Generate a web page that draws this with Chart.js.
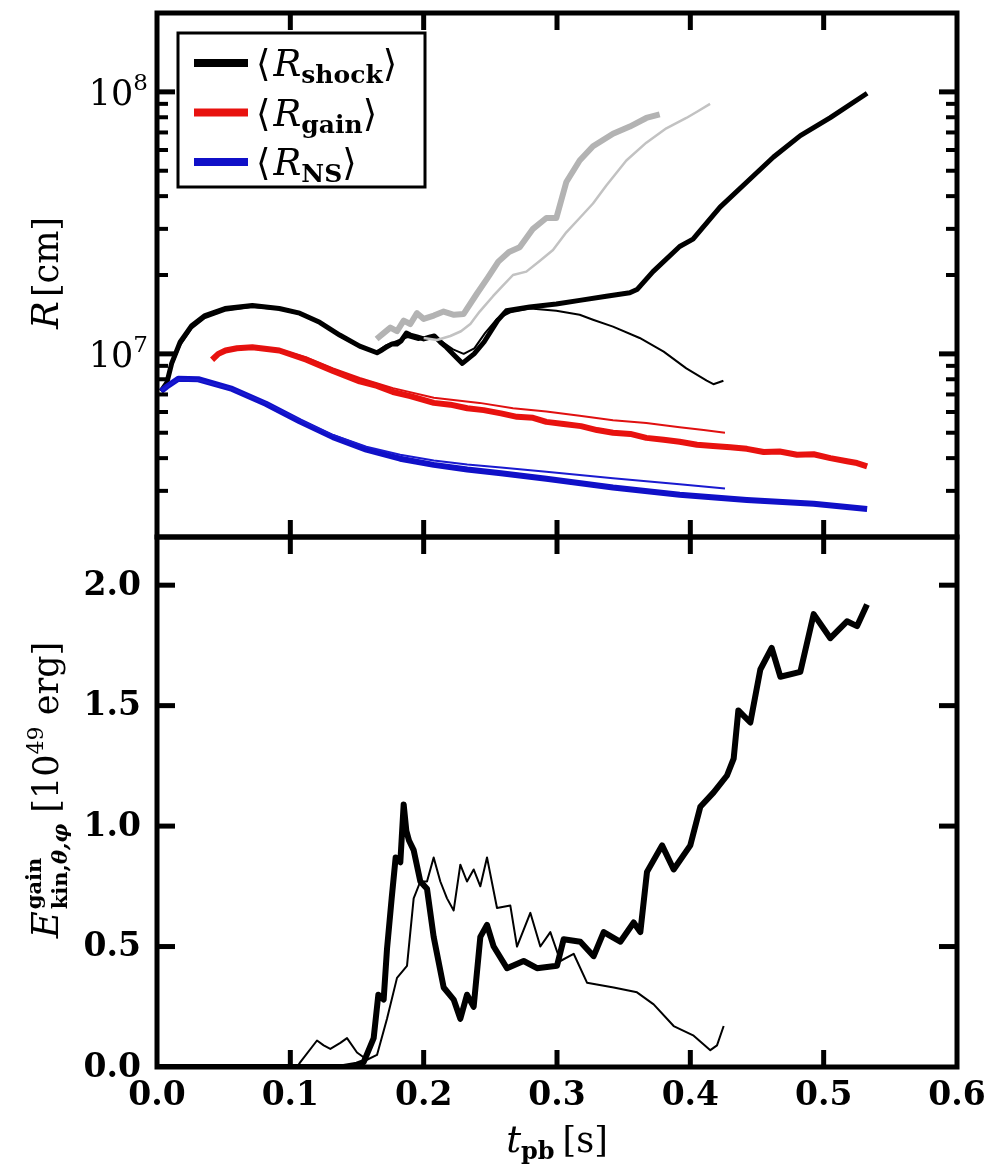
<!DOCTYPE html>
<html>
<head>
<meta charset="utf-8">
<title>Shock, gain and NS radii / kinetic energy in gain layer</title>
<script src="https://cdn.jsdelivr.net/npm/chart.js@4.4.1/dist/chart.umd.min.js"></script>
<style>
  html, body { margin: 0; padding: 0; background: #fff; }
  #wrap { position: relative; width: 990px; height: 1167px; }
  #wrap canvas { position: absolute; left: 0; top: 0; }
</style>
</head>
<body>
<div id="wrap">
  <canvas id="radiusChart" width="990" height="1167"></canvas>
  <canvas id="ekinChart" width="990" height="1167"></canvas>
</div>
<script>
const SERIF = '"DejaVu Serif", "Liberation Serif", serif';

// time axis (post bounce, s)
const tTicks = [0, 0.1, 0.2, 0.3, 0.4, 0.5, 0.6];
const tTickLabels = ['0.0', '0.1', '0.2', '0.3', '0.4', '0.5', '0.6'];

// radius axis (cm, log)
const rMin = 2e6, rMax = 2e8;
const rMajor = [1e7, 1e8];
const rMajorExp = ['7', '8'];
const rMinor = [3e6, 4e6, 5e6, 6e6, 7e6, 8e6, 9e6, 2e7, 3e7, 4e7, 5e7, 6e7, 7e7, 8e7, 9e7];

// energy axis (1e49 erg)
const eMax = 2.2;
const eTicks = [0, 0.5, 1.0, 1.5, 2.0];
const eTickLabels = ['0.0', '0.5', '1.0', '1.5', '2.0'];

// legend entries
const legendSubs = ['shock', 'gain', 'NS'];
const legendColors = ['#000000', '#e8120f', '#1010c8'];

// shock radius, model A (thick) and model B (thin)
const shockT_a = [0.003, 0.0073, 0.011, 0.0174, 0.026, 0.036, 0.051, 0.0715, 0.0917, 0.107, 0.122, 0.137, 0.152, 0.165, 0.168, 0.172, 0.176, 0.18, 0.183, 0.187, 0.19, 0.195, 0.2, 0.205, 0.208, 0.2125, 0.217, 0.2227, 0.229, 0.2378, 0.2453, 0.2554, 0.262, 0.2795, 0.2995, 0.317, 0.337, 0.3546, 0.36, 0.372, 0.392, 0.402, 0.4223, 0.4424, 0.4624, 0.4825, 0.505, 0.5326];
const shockR_a = [7.2e6, 7.74e6, 9.2e6, 1.11e7, 1.28e7, 1.40e7, 1.49e7, 1.53e7, 1.49e7, 1.43e7, 1.32e7, 1.18e7, 1.07e7, 1.01e7, 1.03e7, 1.06e7, 1.09e7, 1.09e7, 1.12e7, 1.2e7, 1.18e7, 1.16e7, 1.14e7, 1.16e7, 1.17e7, 1.11e7, 1.06e7, 9.9e6, 9.2e6, 1.0e7, 1.11e7, 1.34e7, 1.46e7, 1.51e7, 1.55e7, 1.6e7, 1.66e7, 1.71e7, 1.76e7, 2.06e7, 2.57e7, 2.74e7, 3.63e7, 4.53e7, 5.64e7, 6.81e7, 7.98e7, 9.88e7];
const shockT_b = [0.003, 0.0073, 0.011, 0.0174, 0.026, 0.036, 0.051, 0.0715, 0.0917, 0.107, 0.122, 0.137, 0.152, 0.165, 0.172, 0.18, 0.188, 0.196, 0.205, 0.213, 0.222, 0.23, 0.238, 0.246, 0.255, 0.265, 0.28, 0.2995, 0.317, 0.327, 0.342, 0.362, 0.38, 0.397, 0.4123, 0.4173, 0.4248];
const shockR_b = [7.2e6, 7.6e6, 9.0e6, 1.08e7, 1.25e7, 1.37e7, 1.46e7, 1.51e7, 1.48e7, 1.42e7, 1.31e7, 1.17e7, 1.06e7, 1.02e7, 1.08e7, 1.12e7, 1.16e7, 1.13e7, 1.17e7, 1.12e7, 1.04e7, 1.0e7, 1.05e7, 1.2e7, 1.36e7, 1.44e7, 1.49e7, 1.46e7, 1.41e7, 1.35e7, 1.27e7, 1.15e7, 1.02e7, 8.8e6, 7.9e6, 7.66e6, 7.9e6];

// shock radius, grey comparison runs
const greyT_a = [0.1647, 0.17, 0.175, 0.18, 0.185, 0.19, 0.195, 0.2, 0.2076, 0.215, 0.2227, 0.23, 0.24, 0.248, 0.256, 0.264, 0.272, 0.282, 0.292, 0.2995, 0.307, 0.317, 0.327, 0.342, 0.3546, 0.367, 0.377];
const greyR_a = [1.14e7, 1.2e7, 1.26e7, 1.22e7, 1.34e7, 1.3e7, 1.43e7, 1.36e7, 1.4e7, 1.45e7, 1.41e7, 1.42e7, 1.7e7, 1.95e7, 2.25e7, 2.45e7, 2.55e7, 3.0e7, 3.3e7, 3.3e7, 4.53e7, 5.47e7, 6.2e7, 6.92e7, 7.37e7, 7.95e7, 8.2e7];
const greyT_b = [0.2, 0.21, 0.22, 0.228, 0.235, 0.242, 0.252, 0.2594, 0.267, 0.277, 0.287, 0.297, 0.307, 0.317, 0.327, 0.337, 0.352, 0.367, 0.382, 0.397, 0.405, 0.4148];
const greyR_b = [1.15e7, 1.13e7, 1.17e7, 1.22e7, 1.3e7, 1.45e7, 1.66e7, 1.82e7, 2.0e7, 2.06e7, 2.26e7, 2.49e7, 2.91e7, 3.3e7, 3.75e7, 4.39e7, 5.47e7, 6.4e7, 7.26e7, 7.95e7, 8.4e7, 9.0e7];

// gain radius
const gainT_a = [0.0413, 0.046, 0.0514, 0.06, 0.0715, 0.0917, 0.112, 0.132, 0.152, 0.165, 0.177, 0.19, 0.2076, 0.22, 0.2327, 0.245, 0.258, 0.27, 0.282, 0.292, 0.305, 0.318, 0.33, 0.342, 0.355, 0.367, 0.38, 0.392, 0.405, 0.417, 0.43, 0.4424, 0.455, 0.467, 0.48, 0.4925, 0.505, 0.5175, 0.525, 0.5326];
const gainR_a = [9.5e6, 1.0e7, 1.03e7, 1.05e7, 1.06e7, 1.03e7, 9.5e6, 8.6e6, 7.85e6, 7.55e6, 7.15e6, 6.9e6, 6.5e6, 6.4e6, 6.2e6, 6.1e6, 5.93e6, 5.75e6, 5.7e6, 5.5e6, 5.4e6, 5.3e6, 5.12e6, 5.0e6, 4.95e6, 4.78e6, 4.7e6, 4.62e6, 4.5e6, 4.45e6, 4.4e6, 4.34e6, 4.22e6, 4.24e6, 4.12e6, 4.14e6, 4.0e6, 3.89e6, 3.83e6, 3.72e6];
const gainT_b = [0.05, 0.0715, 0.0917, 0.112, 0.132, 0.152, 0.177, 0.2076, 0.2419, 0.267, 0.292, 0.317, 0.342, 0.367, 0.392, 0.41, 0.426];
const gainR_b = [1.02e7, 1.06e7, 1.04e7, 9.7e6, 8.8e6, 8.1e6, 7.4e6, 6.8e6, 6.5e6, 6.2e6, 6.03e6, 5.8e6, 5.58e6, 5.45e6, 5.25e6, 5.12e6, 5.0e6];

// neutron star radius
const nsT_a = [0.003, 0.0073, 0.016, 0.031, 0.0564, 0.0816, 0.107, 0.132, 0.157, 0.1824, 0.2076, 0.2327, 0.258, 0.292, 0.342, 0.392, 0.4424, 0.4925, 0.5326];
const nsR_a = [7.2e6, 7.5e6, 8.04e6, 8.0e6, 7.35e6, 6.45e6, 5.53e6, 4.81e6, 4.31e6, 3.98e6, 3.77e6, 3.62e6, 3.5e6, 3.34e6, 3.09e6, 2.9e6, 2.77e6, 2.68e6, 2.56e6];
const nsT_b = [0.003, 0.0073, 0.016, 0.031, 0.0564, 0.0816, 0.107, 0.132, 0.157, 0.1824, 0.2076, 0.2327, 0.258, 0.292, 0.342, 0.392, 0.426];
const nsR_b = [7.2e6, 7.5e6, 8.0e6, 7.95e6, 7.35e6, 6.5e6, 5.6e6, 4.9e6, 4.42e6, 4.12e6, 3.92e6, 3.78e6, 3.68e6, 3.55e6, 3.35e6, 3.18e6, 3.06e6];

// non-radial kinetic energy in the gain layer
const ekinT_a = [0.0, 0.14, 0.15, 0.155, 0.1625, 0.166, 0.17, 0.1725, 0.176, 0.179, 0.1825, 0.185, 0.187, 0.189, 0.1925, 0.1975, 0.2025, 0.2075, 0.215, 0.2225, 0.2275, 0.2325, 0.2375, 0.2425, 0.2475, 0.2525, 0.2625, 0.275, 0.285, 0.3, 0.305, 0.3175, 0.3275, 0.335, 0.3475, 0.3575, 0.3625, 0.3675, 0.3788, 0.3875, 0.4, 0.4075, 0.4175, 0.4275, 0.4325, 0.436, 0.445, 0.4525, 0.461, 0.4675, 0.4825, 0.4925, 0.505, 0.5175, 0.525, 0.5325];
const ekinE_a = [0, 0, 0.01, 0.02, 0.12, 0.3, 0.28, 0.49, 0.70, 0.87, 0.85, 1.09, 0.98, 0.94, 0.90, 0.77, 0.74, 0.54, 0.33, 0.28, 0.2, 0.30, 0.25, 0.54, 0.59, 0.50, 0.41, 0.44, 0.41, 0.42, 0.53, 0.52, 0.46, 0.56, 0.52, 0.60, 0.56, 0.81, 0.92, 0.82, 0.92, 1.08, 1.14, 1.21, 1.28, 1.48, 1.43, 1.65, 1.74, 1.62, 1.64, 1.88, 1.78, 1.85, 1.83, 1.92];
const ekinT_b = [0.0, 0.105, 0.1075, 0.12, 0.125, 0.13, 0.1375, 0.1425, 0.15, 0.1575, 0.165, 0.1725, 0.18, 0.1875, 0.1925, 0.1975, 0.2025, 0.2075, 0.2125, 0.2175, 0.2225, 0.2275, 0.2325, 0.2375, 0.2425, 0.2475, 0.255, 0.265, 0.27, 0.28, 0.2875, 0.295, 0.3025, 0.3125, 0.3225, 0.3425, 0.36, 0.3725, 0.3875, 0.4025, 0.415, 0.42, 0.425];
const ekinE_b = [0, 0, 0.02, 0.11, 0.09, 0.075, 0.1, 0.12, 0.06, 0.03, 0.05, 0.2, 0.37, 0.42, 0.70, 0.77, 0.77, 0.87, 0.77, 0.70, 0.65, 0.84, 0.77, 0.82, 0.75, 0.87, 0.66, 0.67, 0.50, 0.64, 0.50, 0.56, 0.44, 0.47, 0.35, 0.33, 0.31, 0.26, 0.17, 0.13, 0.07, 0.09, 0.17];

const pts = (ts, vs) => ts.map((t, i) => ({ x: t, y: vs[i] }));

function line(data, color, width) {
  return {
    data, borderColor: color, borderWidth: width,
    pointRadius: 0, fill: false, borderJoinStyle: 'round', borderCapStyle: 'butt'
  };
}

// draws a run of text pieces (with sub/superscripts) from x along baseline y
function rich(ctx, parts, x, y, draw) {
  let cx = x;
  for (const p of parts) {
    if (p.sup) {
      const w1 = rich(ctx, p.sup, cx, y + p.supDy, draw);
      const w2 = rich(ctx, p.sub, cx, y + p.subDy, draw);
      cx += Math.max(w1, w2);
      continue;
    }
    ctx.font = p.font;
    if (draw) ctx.fillText(p.text, cx, y + (p.dy || 0));
    cx += ctx.measureText(p.text).width + (p.kern || 0);
  }
  return cx - x;
}

function richCentered(ctx, parts, cx, y) {
  const w = rich(ctx, parts, 0, 0, false);
  rich(ctx, parts, cx - w / 2, y, true);
}

function richVertical(ctx, parts, x, cy) {
  ctx.save();
  ctx.translate(x, cy);
  ctx.rotate(-Math.PI / 2);
  richCentered(ctx, parts, 0, 0);
  ctx.restore();
}

// box frame with inward ticks on all four sides
function makeFrame(xTicks, yMajor, yMinor) {
  return {
    id: 'frame',
    afterDatasetsDraw(chart) {
      const { ctx, chartArea: a, scales: { x, y } } = chart;
      const seg = (x1, y1, x2, y2, w) => {
        ctx.lineWidth = w;
        ctx.beginPath(); ctx.moveTo(x1, y1); ctx.lineTo(x2, y2); ctx.stroke();
      };
      ctx.save();
      ctx.strokeStyle = '#000';
      xTicks.forEach(v => {
        const px = x.getPixelForValue(v);
        seg(px, a.top, px, a.top + 17, 5);
        seg(px, a.bottom, px, a.bottom - 17, 5);
      });
      yMajor.forEach(v => {
        const py = y.getPixelForValue(v);
        seg(a.left, py, a.left + 18, py, 5);
        seg(a.right, py, a.right - 18, py, 5);
      });
      yMinor.forEach(v => {
        const py = y.getPixelForValue(v);
        seg(a.left, py, a.left + 11, py, 4);
        seg(a.right, py, a.right - 11, py, 4);
      });
      ctx.lineWidth = 5;
      ctx.strokeRect(a.left, a.top, a.width, a.height);
      ctx.restore();
    }
  };
}

const radiusLabels = {
  id: 'radiusLabels',
  afterDraw(chart) {
    const { ctx, chartArea: a, scales: { y } } = chart;
    ctx.save();
    ctx.fillStyle = '#000';
    ctx.textBaseline = 'alphabetic';
    // 10^n tick labels
    rMajor.forEach((v, i) => {
      const py = y.getPixelForValue(v);
      const parts = [
        { text: '10', font: `35px ${SERIF}` },
        { text: rMajorExp[i], font: `23px ${SERIF}`, dy: -15 }
      ];
      const w = rich(ctx, parts, 0, 0, false);
      rich(ctx, parts, 148 - w, py + 13, true);
    });
    // axis title
    richVertical(ctx, [
      { text: 'R', font: `italic 37px ${SERIF}`, kern: 4 },
      { text: '[cm]', font: `35px ${SERIF}` }
    ], 58, 273);

    // legend
    const lx = a.left + 21, ly = 33, lw = 247, lh = 154;
    ctx.fillStyle = '#fff';
    ctx.fillRect(lx, ly, lw, lh);
    ctx.strokeStyle = '#000';
    ctx.lineWidth = 3;
    ctx.strokeRect(lx, ly, lw, lh);
    legendSubs.forEach((sub, i) => {
      const yy = 63 + i * 49.5;
      ctx.strokeStyle = legendColors[i];
      ctx.lineWidth = 8;
      ctx.beginPath(); ctx.moveTo(194, yy); ctx.lineTo(248, yy); ctx.stroke();
      ctx.fillStyle = '#000';
      rich(ctx, [
        { text: '\u27E8', font: `37px ${SERIF}`, kern: 3 },
        { text: 'R', font: `italic 37px ${SERIF}` },
        { text: sub, font: `bold 25px ${SERIF}`, dy: 7 },
        { text: '\u27E9', font: `37px ${SERIF}` }
      ], 256, yy + 13, true);
    });
    ctx.restore();
  }
};

const ekinLabels = {
  id: 'ekinLabels',
  afterDraw(chart) {
    const { ctx, chartArea: a, scales: { x, y } } = chart;
    ctx.save();
    ctx.fillStyle = '#000';
    ctx.font = `bold 33px ${SERIF}`;
    ctx.textBaseline = 'middle';
    ctx.textAlign = 'right';
    eTicks.forEach((v, i) => ctx.fillText(eTickLabels[i], 141, y.getPixelForValue(v) + 1));
    ctx.textAlign = 'center';
    tTicks.forEach((v, i) => ctx.fillText(tTickLabels[i], x.getPixelForValue(v), a.bottom + 29));
    ctx.textAlign = 'left';
    ctx.textBaseline = 'alphabetic';
    richCentered(ctx, [
      { text: 't', font: `italic 37px ${SERIF}` },
      { text: 'pb', font: `bold 24px ${SERIF}`, dy: 7, kern: 8 },
      { text: '[s]', font: `35px ${SERIF}` }
    ], (a.left + a.right) / 2, 1152);
    richVertical(ctx, [
      { text: 'E', font: `italic 37px ${SERIF}`, kern: 2 },
      {
        sup: [{ text: 'gain', font: `bold 21px ${SERIF}` }],
        sub: [{ text: 'kin,', font: `bold 21px ${SERIF}` }, { text: '\u03B8,\u03C6', font: `bold italic 21px ${SERIF}` }],
        supDy: -17, subDy: 9
      },
      { text: ' [10', font: `35px ${SERIF}` },
      { text: '49', font: `22px ${SERIF}`, dy: -15 },
      { text: ' erg]', font: `35px ${SERIF}` }
    ], 58, 790);
    ctx.restore();
  }
};

const common = {
  responsive: false,
  animation: false,
  devicePixelRatio: 1,
  events: [],
  plugins: { legend: { display: false }, tooltip: { enabled: false } }
};

new Chart(document.getElementById('radiusChart'), {
  type: 'line',
  data: {
    datasets: [
      line(pts(greyT_b, greyR_b), '#c2c2c2', 2.5),
      line(pts(greyT_a, greyR_a), '#b3b3b3', 6),
      line(pts(nsT_b, nsR_b), '#1a1ad0', 2),
      line(pts(nsT_a, nsR_a), '#1010c8', 6),
      line(pts(gainT_b, gainR_b), '#e01010', 2),
      line(pts(gainT_a, gainR_a), '#e8120f', 6),
      line(pts(shockT_b, shockR_b), '#000000', 2),
      line(pts(shockT_a, shockR_a), '#000000', 5)
    ]
  },
  options: {
    ...common,
    layout: { padding: { left: 157, right: 33, top: 13, bottom: 630 } },
    scales: {
      x: { type: 'linear', min: 0, max: 0.6, display: false },
      y: { type: 'logarithmic', min: rMin, max: rMax, display: false }
    }
  },
  plugins: [makeFrame(tTicks.slice(1, -1), rMajor, rMinor), radiusLabels]
});

new Chart(document.getElementById('ekinChart'), {
  type: 'line',
  data: {
    datasets: [
      line(pts(ekinT_b, ekinE_b), '#000000', 2),
      line(pts(ekinT_a, ekinE_a), '#000000', 6)
    ]
  },
  options: {
    ...common,
    layout: { padding: { left: 157, right: 33, top: 537, bottom: 100 } },
    scales: {
      x: { type: 'linear', min: 0, max: 0.6, display: false },
      y: { type: 'linear', min: 0, max: eMax, display: false }
    }
  },
  plugins: [makeFrame(tTicks.slice(1, -1), eTicks.slice(1), []), ekinLabels]
});
</script>
</body>
</html>
